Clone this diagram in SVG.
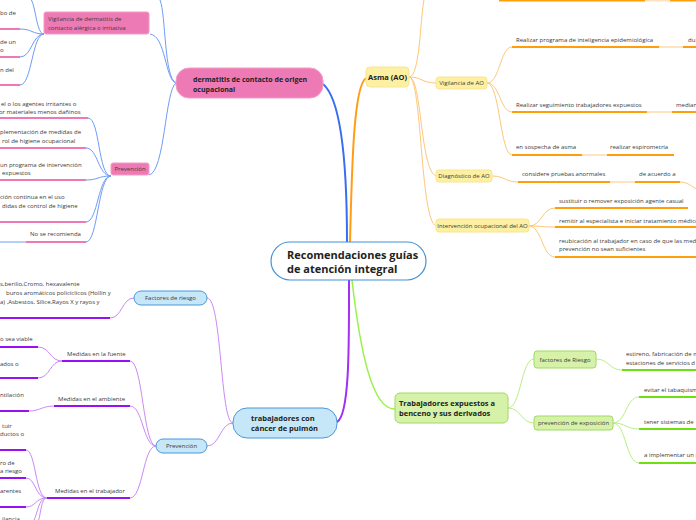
<svg xmlns="http://www.w3.org/2000/svg" width="696" height="520" viewBox="0 0 696 520">
<style>
.t{font-family:"Open Sans","Liberation Sans",sans-serif;font-size:6px;fill:#3a3a3a}
.b{font-family:"Open Sans","Liberation Sans",sans-serif;font-weight:bold;fill:#222}
.m{text-anchor:middle}
.cb{fill:none;stroke:#6f9cf7;stroke-width:1}
.cp{fill:none;stroke:#c98af5;stroke-width:1}
.co{fill:none;stroke:#fdc779;stroke-width:1}
.cg{fill:none;stroke:#b9ee86;stroke-width:1}
.up{stroke:#ee7ab5;stroke-width:2}
.uv{stroke:#9a10f5;stroke-width:2}
.uo{stroke:#ff9d0a;stroke-width:2}
.uf{stroke:#fde3be;stroke-width:2}
.ug{stroke:#6ee010;stroke-width:2}
.pk{fill:#ee7ab5;stroke:#f39cc7;stroke-width:1}
.lb{fill:#c6e7f8;stroke:#4a98d8;stroke-width:1}
.yl{fill:#fdf0a2;stroke:#f8e590;stroke-width:1}
.gr{fill:#d6f2a8;stroke:#a2d866;stroke-width:1}
</style>
<g id="connectors">
<path d="M347 242 C347 170 342 100 323 84" fill="none" stroke="#3a6cf2" stroke-width="2"/>
<path d="M350 242 C352 160 354 86 366 78" fill="none" stroke="#ff9e16" stroke-width="2"/>
<path d="M349 280 C349 340 350 415 337 422" fill="none" stroke="#a030f5" stroke-width="2"/>
<path d="M352 280 C360 350 372 410 395 409" fill="none" stroke="#9cf04a" stroke-width="1.5"/>
<path class="cb" d="M176 83 C165 80 166 36 150 34"/>
<path class="cb" d="M176 83 C164 78 166 15 160 0"/>
<path class="cb" d="M176 83 C165 90 165 172 149 175"/>
<path class="cb" d="M44 34 C36 34 36 4 30 -2"/>
<path class="cb" d="M44 34 C32 34 32 29 20 29"/>
<path class="cb" d="M44 34 C32 34 32 57 20 57"/>
<path class="cb" d="M44 34 C32 34 32 85 20 85"/>
<path class="cb" d="M111 176 C98 176 100 118 88 118"/>
<path class="cb" d="M111 176 C98 176 98 148 86 148"/>
<path class="cb" d="M111 176 C98 176 98 180 86 180"/>
<path class="cb" d="M111 176 C98 176 98 222 86 222"/>
<path class="cb" d="M111 176 C98 176 98 242 86 242"/>
<line class="cb" x1="0" y1="242" x2="26" y2="242"/>
<line class="up" x1="0" y1="29" x2="20" y2="29"/>
<line class="up" x1="0" y1="57" x2="20" y2="57"/>
<line class="up" x1="0" y1="85" x2="20" y2="85"/>
<line class="up" x1="0" y1="118" x2="88" y2="118"/>
<line class="up" x1="0" y1="148" x2="86" y2="148"/>
<line class="up" x1="0" y1="180" x2="86" y2="180"/>
<line class="up" x1="0" y1="222" x2="86" y2="222"/>
<line class="up" x1="26" y1="242" x2="86" y2="242"/>
<path class="cp" d="M233 423 C220 423 222 298 207 298"/>
<path class="cp" d="M233 423 C220 423 220 446 207 446"/>
<path class="cp" d="M134 298 C122 298 122 318 110 318"/>
<line class="uv" x1="0" y1="318" x2="110" y2="318"/>
<path class="cp" d="M156 446 C143 446 143 361 130 361"/>
<path class="cp" d="M156 446 C143 446 143 406 130 406"/>
<path class="cp" d="M156 446 C143 446 143 498 130 498"/>
<line class="uv" x1="62" y1="361" x2="130" y2="361"/>
<line class="uv" x1="54" y1="406" x2="130" y2="406"/>
<line class="uv" x1="47" y1="498" x2="130" y2="498"/>
<path class="cp" d="M62 361 C50 361 50 347 38 347"/>
<path class="cp" d="M62 361 C50 361 50 378 38 378"/>
<line class="uv" x1="0" y1="347" x2="38" y2="347"/>
<line class="uv" x1="0" y1="378" x2="38" y2="378"/>
<path class="cp" d="M54 406 C42 406 40 411 29 411"/>
<line class="uv" x1="0" y1="411" x2="29" y2="411"/>
<path class="cp" d="M47 498 C35 498 36 450 26 450"/>
<path class="cp" d="M47 498 C35 498 36 478 26 478"/>
<path class="cp" d="M47 498 C35 498 36 507 26 507"/>
<path class="cp" d="M47 498 C38 498 38 514 33 522"/>
<path class="cp" d="M47 498 C41 498 41 514 38 522"/>
<line class="uv" x1="0" y1="450" x2="26" y2="450"/>
<line class="uv" x1="0" y1="478" x2="26" y2="478"/>
<line class="uv" x1="0" y1="507" x2="26" y2="507"/>
<path class="co" d="M409 77 C420 77 420 20 424 0"/>
<path class="co" d="M409 77 C422 77 422 83 436 83"/>
<path class="co" d="M409 77 C422 77 420 170 436 176"/>
<path class="co" d="M409 77 C422 77 420 220 436 226"/>
<line class="uo" x1="499" y1="0.5" x2="645" y2="0.5"/>
<line class="uf" x1="645" y1="0.5" x2="670" y2="0.5"/>
<line class="uo" x1="670" y1="0.5" x2="696" y2="0.5"/>
<path class="co" d="M487 83 C500 83 500 47 512 47"/>
<path class="co" d="M487 83 C500 83 500 112 512 112"/>
<path class="co" d="M487 83 C500 83 500 155 512 155"/>
<line class="uo" x1="512" y1="47" x2="659" y2="47"/>
<line class="uf" x1="659" y1="47" x2="683" y2="47"/>
<line class="uo" x1="683" y1="47" x2="696" y2="47"/>
<line class="uo" x1="512" y1="112" x2="647" y2="112"/>
<line class="uf" x1="647" y1="112" x2="672" y2="112"/>
<line class="uo" x1="672" y1="112" x2="696" y2="112"/>
<line class="uo" x1="512" y1="155" x2="582" y2="155"/>
<line class="uf" x1="582" y1="155" x2="607" y2="155"/>
<line class="uo" x1="607" y1="155" x2="674" y2="155"/>
<path class="co" d="M492 176 C505 176 505 182 518 182"/>
<line class="uo" x1="518" y1="182" x2="610" y2="182"/>
<line class="uf" x1="610" y1="182" x2="635" y2="182"/>
<line class="uo" x1="635" y1="182" x2="680" y2="182"/>
<path class="co" d="M680 182 C688 182 690 186 697 189"/>
<path class="co" d="M529 226 C542 226 542 208 555 208"/>
<path class="co" d="M529 226 C542 226 542 227 555 227"/>
<path class="co" d="M529 226 C542 226 542 257 555 257"/>
<line class="uo" x1="555" y1="208" x2="688" y2="208"/>
<line class="uo" x1="555" y1="227" x2="696" y2="227"/>
<line class="uo" x1="555" y1="257" x2="696" y2="257"/>
<path class="cg" d="M508 408 C521 408 521 359 534 359"/>
<path class="cg" d="M508 408 C521 408 521 423 534 423"/>
<path class="cg" d="M596 359 C609 359 609 370 622 370"/>
<line class="ug" x1="622" y1="370" x2="696" y2="370"/>
<path class="cg" d="M613 423 C626 423 626 397 639 397"/>
<path class="cg" d="M613 423 C626 423 626 429 639 429"/>
<path class="cg" d="M613 423 C626 423 626 463 639 463"/>
<line class="ug" x1="639" y1="397" x2="696" y2="397"/>
<line class="ug" x1="639" y1="429" x2="696" y2="429"/>
<line class="ug" x1="639" y1="463" x2="696" y2="463"/>
</g>
<g id="central">
<rect x="271" y="242" width="155" height="38" rx="19" fill="#fff" stroke="#4392d6" stroke-width="1.2"/>
<text class="b" x="287" y="259" font-size="11">Recomendaciones guías</text>
<text class="b" x="287" y="273" font-size="11">de atención integral</text>
</g>
<g id="dermatitis">
<rect class="pk" x="176" y="68" width="147" height="30" rx="13"/>
<text class="b" x="193" y="81.5" font-size="7">dermatitis de contacto de origen</text>
<text class="b" x="193" y="91.5" font-size="7">ocupacional</text>
</g>
<g id="vig-dermatitis">
<rect class="pk" x="44" y="12" width="105" height="22" rx="2"/>
<text class="t" x="48" y="21">Vigilancia de dermatitis de</text>
<text class="t" x="48" y="30">contacto alérgica o irritativa</text>
</g>
<g id="vig-items">
<text class="t" x="0" y="15">bo de</text>
<text class="t" x="0" y="44">de un</text>
<text class="t" x="0" y="52">o</text>
<text class="t" x="0" y="72">n del</text>
</g>
<g id="prev-dermatitis">
<rect class="pk" x="111" y="163" width="38" height="12" rx="2"/>
<text class="t m" x="130" y="171">Prevención</text>
</g>
<g id="prev-d-items">
<text class="t" x="1" y="106">el o los agentes irritantes o</text>
<text class="t" x="-1" y="114">or materiales menos dañinos</text>
<text class="t" x="0" y="134">plementación de medidas de</text>
<text class="t" x="2" y="143">rol de higiene ocupacional</text>
<text class="t" x="0" y="167">un programa de intervención</text>
<text class="t" x="2" y="175">expuestos</text>
<text class="t" x="0" y="199">ción continua en el uso</text>
<text class="t" x="2" y="208">didas de control de higiene</text>
<text class="t" x="30" y="236">No se recomienda</text>
</g>
<g id="cancer">
<rect class="lb" x="233" y="408" width="104" height="30" rx="14"/>
<text class="b" x="251" y="420.5" font-size="7.5">trabajadores con</text>
<text class="b" x="251" y="430.5" font-size="7.5">cáncer de pulmón</text>
</g>
<g id="factores-cancer">
<rect class="lb" x="134" y="291" width="73" height="14" rx="7"/>
<text class="t m" x="170.5" y="300">Factores de riesgo</text>
<text class="t" x="0" y="286">s,berilio,Cromo, hexavalente</text>
<text class="t" x="6" y="295">buros aromáticos policíclicos (Hollín y</text>
<text class="t" x="0" y="304">a) ,Asbestos, Sílice,Rayos X y rayos y</text>
</g>
<g id="prev-cancer">
<rect class="lb" x="156" y="439" width="51" height="14" rx="7"/>
<text class="t m" x="181.5" y="448">Prevención</text>
</g>
<g id="fuente">
<text class="t" x="67" y="356">Medidas en la fuente</text>
<text class="t" x="0" y="341">o sea viable</text>
<text class="t" x="0" y="366">ados o</text>
</g>
<g id="ambiente">
<text class="t" x="58" y="401">Medidas en el ambiente</text>
<text class="t" x="0" y="397">ntilación</text>
</g>
<g id="trabajador">
<text class="t" x="55" y="493">Medidas en el trabajador</text>
<text class="t" x="2" y="428">tuir</text>
<text class="t" x="0" y="436">ductos o</text>
<text class="t" x="0" y="465">ro de</text>
<text class="t" x="0" y="473">a riesgo</text>
<text class="t" x="0" y="493">arentes</text>
<text class="t" x="2" y="521">ilancia</text>
</g>
<g id="asma">
<rect class="yl" x="366" y="67" width="43" height="20" rx="4"/>
<text class="b m" x="387.5" y="80" font-size="7.5">Asma (AO)</text>
</g>
<g id="vig-ao">
<rect class="yl" x="436" y="77" width="51" height="12" rx="3"/>
<text class="t m" x="461.5" y="85">Vigilancia de AO</text>
<text class="t" x="516" y="42">Realizar programa de inteligencia epidemiológica</text>
<text class="t" x="688" y="42">du</text>
<text class="t" x="516" y="107">Realizar seguimiento trabajadores expuestos</text>
<text class="t" x="676" y="107">median</text>
<text class="t" x="516" y="149">en sospecha de asma</text>
<text class="t" x="610" y="149">realizar espirometría</text>
</g>
<g id="diag-ao">
<rect class="yl" x="436" y="170" width="56" height="12" rx="3"/>
<text class="t m" x="464" y="178">Diagnóstico de AO</text>
<text class="t" x="522" y="176">considere pruebas anormales</text>
<text class="t" x="639" y="176">de acuerdo a</text>
</g>
<g id="interv-ao">
<rect class="yl" x="436" y="219" width="93" height="13" rx="3"/>
<text class="t m" x="482.5" y="227.5">Intervención ocupacional del AO</text>
<text class="t" x="559" y="203">sustituir o remover exposición agente casual</text>
<text class="t" x="559" y="223">remitir al especialista  e iniciar tratamiento médico</text>
<text class="t" x="559" y="243">reubicación al trabajador en caso de que las med</text>
<text class="t" x="559" y="251">prevención no sean suficientes</text>
</g>
<g id="benceno">
<rect class="gr" x="395" y="393" width="113" height="30" rx="5"/>
<text class="b" x="399" y="406" font-size="7.5">Trabajadores expuestos a</text>
<text class="b" x="399" y="416" font-size="7.5">benceno y sus derivados</text>
</g>
<g id="factores-benceno">
<rect class="gr" x="534" y="351" width="62" height="17" rx="3"/>
<text class="t m" x="565" y="361.5">factores  de Riesgo</text>
<text class="t" x="626" y="356">estireno, fabricación de m</text>
<text class="t" x="626" y="365">estaciones de servicios d</text>
</g>
<g id="prev-benceno">
<rect class="gr" x="534" y="416" width="79" height="14" rx="3"/>
<text class="t m" x="573.5" y="425">prevención de exposición</text>
<text class="t" x="644" y="392">evitar el tabaquism</text>
<text class="t" x="644" y="424">tener sistemas de</text>
<text class="t" x="644" y="457">a implementar un p</text>
</g>
</svg>
